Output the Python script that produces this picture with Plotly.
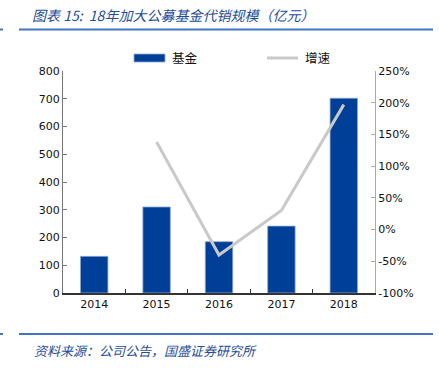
import plotly.graph_objects as go

years = ["2014", "2015", "2016", "2017", "2018"]
fund_scale = [132, 310, 185, 241, 702]
growth_pct = [None, 138, -40, 30, 197]
left_ticks = [0, 100, 200, 300, 400, 500, 600, 700, 800]
right_ticks = [-100, -50, 0, 50, 100, 150, 200, 250]
right_tick_text = [f"{v}%" for v in right_ticks]

W, H = 439, 368
L, R, T, B = 63, 375, 71, 293

def px(x):
    return (x - L) / (R - L)

def py(y):
    return (B - y) / (B - T)

BLUE = "#003F98"
TXT_BLUE = "#1F4E9B"
GREY = "#C9C9C9"

fig = go.Figure()
fig.add_trace(go.Bar(
    x=years, y=fund_scale, name="基金",
    marker=dict(color=BLUE, line=dict(color="#8FA9D6", width=0.8)),
    width=0.44, yaxis="y", showlegend=False,
))
fig.add_trace(go.Scatter(
    x=years, y=growth_pct, name="增速", mode="lines",
    line=dict(color=GREY, width=3), yaxis="y2", showlegend=False,
))

tick_font = dict(family="DejaVu Sans, Verdana, sans-serif", size=11, color="#111111")

fig.update_layout(
    width=W, height=H,
    margin=dict(l=L, r=W - R, t=T, b=H - B, autoexpand=False),
    paper_bgcolor="white", plot_bgcolor="white",
    font=tick_font,
    xaxis=dict(
        type="category", showgrid=False, showline=True, linecolor="#333333", linewidth=2,
        ticks="inside", tickson="boundaries", ticklen=4, tickcolor="#333333",
        tickfont=tick_font, range=[-0.5, 4.5], automargin=False,
    ),
    yaxis=dict(
        range=[0, 800], tickvals=left_ticks, showgrid=False, zeroline=False,
        showline=True, linecolor="#777777", linewidth=1, ticks="inside", ticklen=4,
        tickcolor="#777777", tickfont=tick_font, automargin=False,
    ),
    yaxis2=dict(
        range=[-100, 250], tickvals=right_ticks, ticktext=right_tick_text,
        overlaying="y", side="right",
        showgrid=False, zeroline=False, showline=True, linecolor="#AAAAAA", linewidth=1,
        ticks="inside", ticklen=4, tickcolor="#AAAAAA", tickfont=tick_font, automargin=False,
    ),
    bargap=0.56,
)

title_font = dict(family="Noto Sans CJK SC, sans-serif", size=14, color=TXT_BLUE, style="italic")
fig.add_annotation(
    text="图表 15:  18年加大公募基金代销规模（亿元）", xref="paper", yref="paper",
    x=px(30), y=py(15), xanchor="left", yanchor="middle", showarrow=False, font=title_font,
)
fig.add_annotation(
    text="资料来源：公司公告，国盛证券研究所", xref="paper", yref="paper",
    x=px(32), y=py(350), xanchor="left", yanchor="middle", showarrow=False,
    font=dict(family="Noto Sans CJK SC, sans-serif", size=13, color=TXT_BLUE, style="italic"),
)
# header / footer rules
for yy in (29.5, 334):
    fig.add_shape(type="line", xref="paper", yref="paper", x0=px(19), x1=px(433),
                  y0=py(yy), y1=py(yy), line=dict(color="#4472C4", width=2))
    fig.add_shape(type="line", xref="paper", yref="paper", x0=px(0), x1=px(3),
                  y0=py(yy), y1=py(yy), line=dict(color="#4472C4", width=2))

# legend
fig.add_shape(type="rect", xref="paper", yref="paper", x0=px(134), x1=px(165),
              y0=py(62), y1=py(54), fillcolor=BLUE, line=dict(color="#8FA9D6", width=0.8))
fig.add_annotation(text="基金", xref="paper", yref="paper", x=px(170), y=py(58),
                   xanchor="left", yanchor="middle", showarrow=False,
                   font=dict(family="Noto Sans CJK SC, sans-serif", size=12.5, color="#111111"))
fig.add_shape(type="line", xref="paper", yref="paper", x0=px(267), x1=px(298),
              y0=py(58), y1=py(58), line=dict(color=GREY, width=3))
fig.add_annotation(text="增速", xref="paper", yref="paper", x=px(303), y=py(58),
                   xanchor="left", yanchor="middle", showarrow=False,
                   font=dict(family="Noto Sans CJK SC, sans-serif", size=12.5, color="#111111"))

fig.write_html(
    "out.html",
    config={"displayModeBar": False, "staticPlot": True},
    post_script="document.body.style.margin='0';document.body.style.overflow='hidden';",
)
